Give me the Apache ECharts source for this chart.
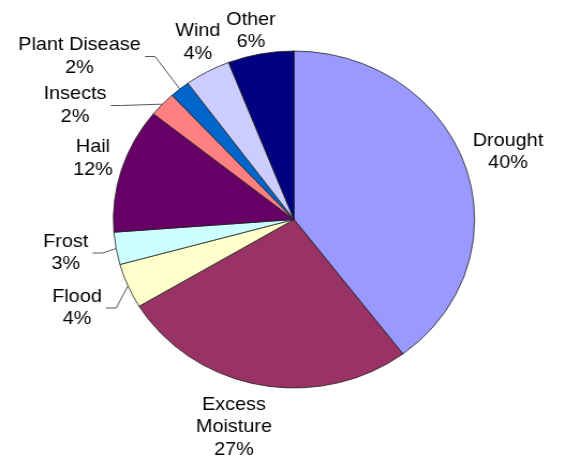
<!DOCTYPE html>
<html><head><meta charset="utf-8">
<script src="https://cdn.jsdelivr.net/npm/echarts@6/dist/echarts.min.js"></script>
<style>
html,body{margin:0;padding:0;background:#fff;overflow:hidden;width:561px;height:457px}
#wrap{position:absolute;left:0;top:0;width:561px;height:457px;overflow:hidden}
#chart{position:absolute;left:0;top:0;height:457px;transform-origin:0 0}
</style></head><body>
<div id="wrap"><div id="chart"></div></div>
<script>
// ---- data ----
const categories = ['Drought','Excess Moisture','Flood','Frost','Hail','Insects','Plant Disease','Wind','Other'];
const values = [39.7, 26.7, 4.3, 3.1, 12.0, 2.4, 1.8, 4.1, 5.9];
const colors = ['#9999FF','#993366','#FFFFCC','#CCFFFF','#660066','#FF8080','#0066CC','#CCCCFF','#000080'];

// ---- layout / style ----
const W = 561, H = 457, SX = 1.072;           // picture is horizontally stretched
const el = document.getElementById('chart');
el.style.width = (W / SX) + 'px';
el.style.transform = 'scaleX(' + SX + ')';
const CX = 294 / SX, CY = 219.5, R = 168.5;
// label block centres (picture pixels)
const labelAt = {
  'Drought': [508, 152],
  'Excess Moisture': [234, 427],
  'Flood': [77, 308],
  'Frost': [65.7, 253],
  'Hail': [93, 158.5],
  'Insects': [75, 105.5],
  'Plant Disease': [79.5, 56.5],
  'Wind': [197.8, 42.5],
  'Other': [251, 31]
};
const leader = {'Flood': true, 'Frost': true, 'Insects': true, 'Plant Disease': true};

const total = values.reduce((a, b) => a + b, 0);
const mids = []; let acc = 0;
values.forEach(v => { mids.push((acc + v / 2) / total * 2 * Math.PI); acc += v; });

const chart = echarts.init(el);
chart.setOption({
  animation: false,
  series: [{
    type: 'pie',
    center: [CX, CY],
    radius: R,
    startAngle: 90,
    clockwise: true,
    avoidLabelOverlap: false,
    percentPrecision: 0,
    itemStyle: { borderColor: '#222', borderWidth: 0.8 },
    emphasis: { disabled: true },
    label: {
      show: true, position: 'outside',
      formatter: p => p.name.replace('Excess ', 'Excess\n') + '\n' + p.percent + '%',
      fontFamily: '"Liberation Sans", Arial, sans-serif',
      fontSize: 18.5, lineHeight: 22.5, color: '#000'
    },
    labelLine: { show: true, lineStyle: { color: '#555', width: 1 } },
    labelLayout: function (p) {
      const name = categories[p.dataIndex];
      const pos = labelAt[name];
      const x = pos[0] / SX, y = pos[1];
      const out = { x: x, y: y, align: 'center', verticalAlign: 'middle' };
      if (leader[name]) {
        const a = mids[p.dataIndex];
        const ex = CX + R * Math.sin(a), ey = CY - R * Math.cos(a);
        const right = x + p.labelRect.width / 2 + 4;
        out.labelLinePoints = [[ex, ey], [right + 9.4, y], [right, y]];
      }
      return out;
    },
    data: categories.map((c, i) => ({
      name: c, value: values[i],
      itemStyle: { color: colors[i] },
      labelLine: { show: !!leader[c] }
    }))
  }]
});
</script>
</body></html>
